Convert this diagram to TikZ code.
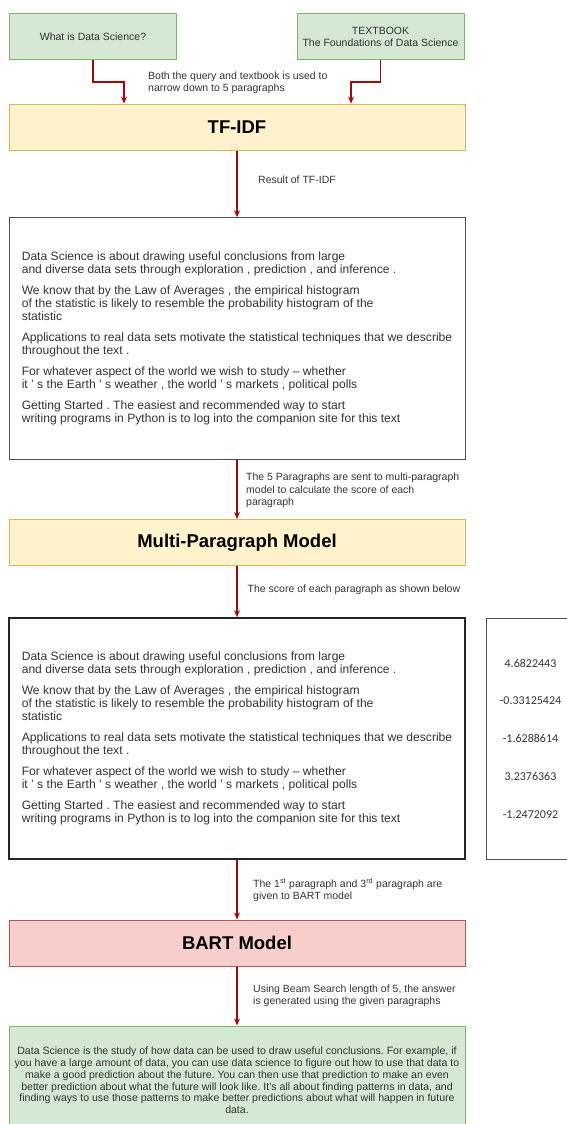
\documentclass[tikz,border=0pt]{standalone}
\usepackage{fontspec}
\setmainfont{Liberation Sans}
\newfontfamily\scorefont{Carlito}
\usetikzlibrary{arrows.meta}
\frenchspacing
\definecolor{greenfill}{HTML}{D5E8D4}
\definecolor{greenline}{HTML}{82B366}
\definecolor{yellowfill}{HTML}{FFF2CC}
\definecolor{yellowline}{HTML}{D6B656}
\definecolor{redfill}{HTML}{F8CECC}
\definecolor{redline}{HTML}{B85450}
\definecolor{arrowred}{HTML}{A20A0A}
\definecolor{boxgray}{HTML}{4D4D4D}
\definecolor{textgray}{HTML}{333333}
\tikzstyle{inbox} = [draw=greenline, fill=greenfill, line width=1pt, rectangle,
    minimum height=46pt, align=center, text=textgray,
    font=\fontsize{10.5}{12.3}\selectfont]
\tikzstyle{stagebox} = [line width=1pt, rectangle, minimum width=456pt,
    minimum height=46pt, font=\bfseries\fontsize{18.5}{22}\selectfont]
\tikzstyle{parabox} = [draw=boxgray, fill=white, rectangle, minimum width=456pt,
    minimum height=242pt, align=left, text=textgray,
    font=\fontsize{12.1}{13}\selectfont]
\tikzstyle{note} = [anchor=west, inner sep=0pt, align=left, text=textgray,
    font=\fontsize{10.5}{12.4}\selectfont]
\tikzstyle{flow} = [draw=arrowred, line width=1.2pt, -{Stealth[length=7pt,width=6pt]}]
\newcommand{\fiveparas}{%
    Data Science is about drawing useful conclusions from large\\
    and diverse data sets through exploration , prediction , and inference .\\[8pt]
    We know that by the Law of Averages , the empirical histogram\\
    of the statistic is likely to resemble the probability histogram of the\\
    statistic\\[8pt]
    Applications to real data sets motivate the statistical techniques that we describe\\
    throughout the text .\\[8pt]
    For whatever aspect of the world we wish to study -- whether\\
    it ' s the Earth ' s weather , the world ' s markets , political polls\\[8pt]
    Getting Started . The easiest and recommended way to start\\
    writing programs in Python is to log into the companion site for this text}

\begin{document}
\begin{tikzpicture}[x=1pt,y=-1pt]
    \useasboundingbox (0,0) rectangle (567,1124);
    % inputs
    \node [inbox, minimum width=167pt] (query) at (93,37) {What is Data Science?};
    \node [inbox, minimum width=167pt] (textbook) at (380.5,37)
        {TEXTBOOK\\The Foundations of Data Science};
    \node [stagebox, draw=yellowline, fill=yellowfill] (tfidf) at (237,127) {TF-IDF};
    \coordinate (qbend) at (124,82);
    \coordinate (tbend) at (351,82);
    \draw [flow] (query.south) |- (qbend) -- (qbend |- tfidf.north);
    \draw [flow] (textbook.south) |- (tbend) -- (tbend |- tfidf.north);
    \node [note] (querynote) at (148,82.8)
        {Both the query and textbook is used to\\narrow down to 5 paragraphs};
    % the five paragraphs
    \node [parabox] (paras) at (237,338.5) {\fiveparas};
    \draw [flow] (tfidf) -- (paras);
    \node [note] (tfidfnote) at (258,180) {Result of TF-IDF};
    \node [stagebox, draw=yellowline, fill=yellowfill] (multi) at (237,542.5)
        {Multi-Paragraph Model};
    \draw [flow] (paras) -- (multi);
    \node [note] (paranote) at (246,490.5)
        {The 5 Paragraphs are sent to multi-paragraph\\model to calculate the score of each\\paragraph};
    % scored paragraphs
    \node [parabox, draw=black!85, line width=1.6pt, minimum height=241pt] (scored)
        at (237,738.5) {\fiveparas};
    \node [draw=boxgray, fill=white, rectangle, minimum width=89pt, minimum height=241pt,
        align=center, text=textgray, font=\scorefont\fontsize{12}{13}\selectfont]
        (scores) at (530.5,738.5)
        {4.6822443\\[24.75pt] -0.33125424\\[24.75pt] -1.6288614\\[24.75pt]
         3.2376363\\[24.75pt] -1.2472092};
    \draw [flow] (multi) -- (scored);
    \node [note] (scorenote) at (247.5,590) {The score of each paragraph as shown below};
    % answer generation
    \node [stagebox, draw=redline, fill=redfill] (bart) at (237,943) {BART Model};
    \draw [flow] (scored) -- (bart);
    \node [note] (bartnote) at (253,890)
        {The 1\textsuperscript{st} paragraph and 3\textsuperscript{rd} paragraph are\\given to BART model};
    \node [inbox, minimum width=456pt, minimum height=109pt,
        font=\fontsize{10.55}{11.8}\selectfont] (answer) at (237,1080.5)
        {Data Science is the study of how data can be used to draw useful conclusions. For example, if\\
         you have a large amount of data, you can use data science to figure out how to use that data to\\
         make a good prediction about the future. You can then use that prediction to make an even\\
         better prediction about what the future will look like. It's all about finding patterns in data, and\\
         finding ways to use those patterns to make better predictions about what will happen in future\\
         data.};
    \draw [flow] (bart) -- (answer);
    \node [note] (beamnote) at (253,996)
        {Using Beam Search length of 5, the answer\\is generated using the given paragraphs};
\end{tikzpicture}
\end{document}
